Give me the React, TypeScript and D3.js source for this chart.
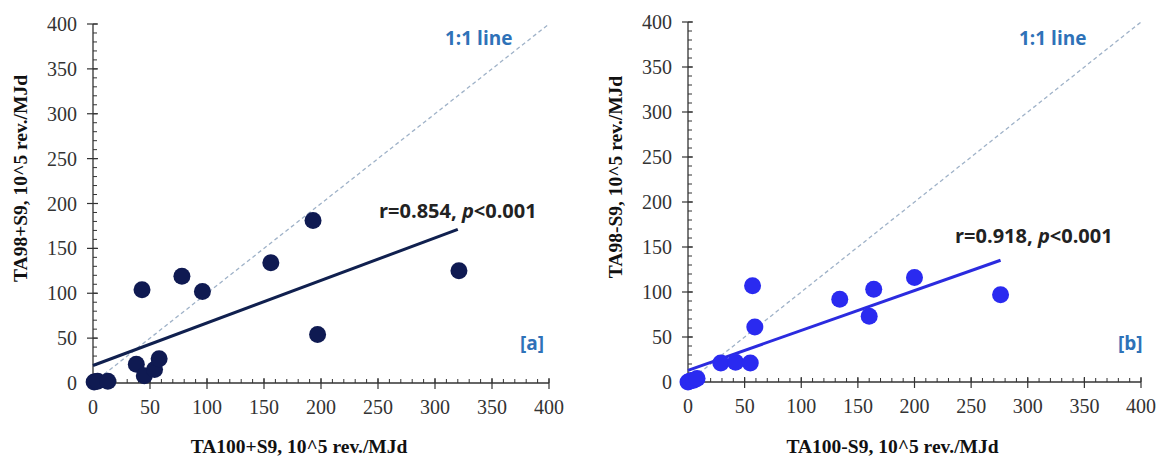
import React from 'react'
import * as d3 from 'd3'

// panel [a]: TA100+S9 vs TA98+S9
const aX = [1, 4, 13, 38, 45, 54, 58, 43, 78, 96, 156, 193, 197, 321]
const aY = [1, 2, 2, 21, 8, 15, 27, 104, 119, 102, 134, 181, 54, 125]
const aFit = { intercept: 19.5, slope: 0.474, xMax: 320 }

// panel [b]: TA100-S9 vs TA98-S9
const bX = [0, 2, 5, 8, 29, 42, 55, 57, 59, 134, 160, 164, 200, 276]
const bY = [0, 1, 2, 4, 21, 22, 21, 107, 61, 92, 73, 103, 116, 97]
const bFit = { intercept: 13, slope: 0.443, xMax: 276 }

const ticks = [0, 50, 100, 150, 200, 250, 300, 350, 400]
const minorTicks = d3.range(0, 401, 10)

const serif = '"Liberation Serif", "Times New Roman", serif'
const sans = '"Open Sans", "Liberation Sans", sans-serif'

function Panel({ xs, ys, fit, left, top, right, bottom, dot, line, xLabel, yLabel, rText, rPos, oneOne, tag, tagPos }) {
	const x = d3.scaleLinear().domain([0, 400]).range([left, right])
	const y = d3.scaleLinear().domain([0, 400]).range([bottom, top])
	const axisColor = '#333'
	return (
		<g>
			{/* 1:1 line */}
			<line x1={x(0)} y1={y(0)} x2={x(400)} y2={y(400)} stroke="#9fb2c8" strokeWidth={1.3} strokeDasharray="4,3" />

			{/* axes */}
			<line x1={left} y1={bottom} x2={right} y2={bottom} stroke={axisColor} strokeWidth={1.3} />
			<line x1={left} y1={bottom} x2={left} y2={top} stroke={axisColor} strokeWidth={1.3} />
			{minorTicks.map(t => (
				<g key={'m' + t}>
					<line x1={x(t)} x2={x(t)} y1={bottom} y2={bottom - 4} stroke={axisColor} strokeWidth={1} />
					<line x1={left} x2={left + 4} y1={y(t)} y2={y(t)} stroke={axisColor} strokeWidth={1} />
				</g>
			))}
			{ticks.map(t => (
				<g key={t}>
					<line x1={x(t)} x2={x(t)} y1={bottom - 5} y2={bottom + 6} stroke={axisColor} strokeWidth={1.2} />
					<line x1={left - 6} x2={left + 5} y1={y(t)} y2={y(t)} stroke={axisColor} strokeWidth={1.2} />
					<text x={x(t)} y={bottom + 31} textAnchor="middle" fontFamily={serif} fontSize={20} fill="#333">{t}</text>
					<text x={left - 16} y={y(t) + 7} textAnchor="end" fontFamily={serif} fontSize={20} fill="#333">{t}</text>
				</g>
			))}

			{/* regression */}
			<line x1={x(0)} y1={y(fit.intercept)} x2={x(fit.xMax)} y2={y(fit.intercept + fit.slope * fit.xMax)} stroke={line} strokeWidth={3} />

			{xs.map((v, i) => (
				<circle key={i} cx={x(v)} cy={y(ys[i])} r={8.5} fill={dot} />
			))}

			<text x={rPos[0]} y={rPos[1]} fontFamily={sans} fontWeight="bold" fontSize={20} fill="#222">
				{rText}, <tspan fontStyle="italic">p</tspan>&lt;0.001
			</text>
			<text x={oneOne[0]} y={oneOne[1]} fontFamily={sans} fontWeight="bold" fontSize={19} fill="#2e72b8">1:1 line</text>
			<text x={tagPos[0]} y={tagPos[1]} fontFamily={sans} fontWeight="bold" fontSize={19} fill="#2e72b8">{tag}</text>

			<text x={(left + right) / 2 - 22} y={453} textAnchor="middle" fontFamily={serif} fontWeight="bold" fontSize={19.5} fill="#111">{xLabel}</text>
			<text transform={`translate(${left - 66},${(top + bottom) / 2 - 25}) rotate(-90)`} textAnchor="middle" fontFamily={serif} fontWeight="bold" fontSize={19.5} fill="#111">{yLabel}</text>
		</g>
	)
}

export default function App() {
	return (
		<svg width={1162} height={456} style={{ position: 'absolute', left: 0, top: 0, background: '#fff' }}>
			<rect width={1162} height={456} fill="#fff" />
			<Panel xs={aX} ys={aY} fit={aFit} left={93} top={24} right={549} bottom={383}
				dot="#0f1a52" line="#10204f" xLabel="TA100+S9, 10^5 rev./MJd" yLabel="TA98+S9, 10^5 rev./MJd"
				rText="r=0.854" rPos={[379, 218]} oneOne={[445, 45]} tag="[a]" tagPos={[520, 350]} />
			<Panel xs={bX} ys={bY} fit={bFit} left={688} top={22} right={1141} bottom={382}
				dot="#2a2af0" line="#2b2bdf" xLabel="TA100-S9, 10^5 rev./MJd" yLabel="TA98-S9, 10^5 rev./MJd"
				rText="r=0.918" rPos={[955, 243]} oneOne={[1019, 45]} tag="[b]" tagPos={[1118, 350]} />
		</svg>
	)
}
